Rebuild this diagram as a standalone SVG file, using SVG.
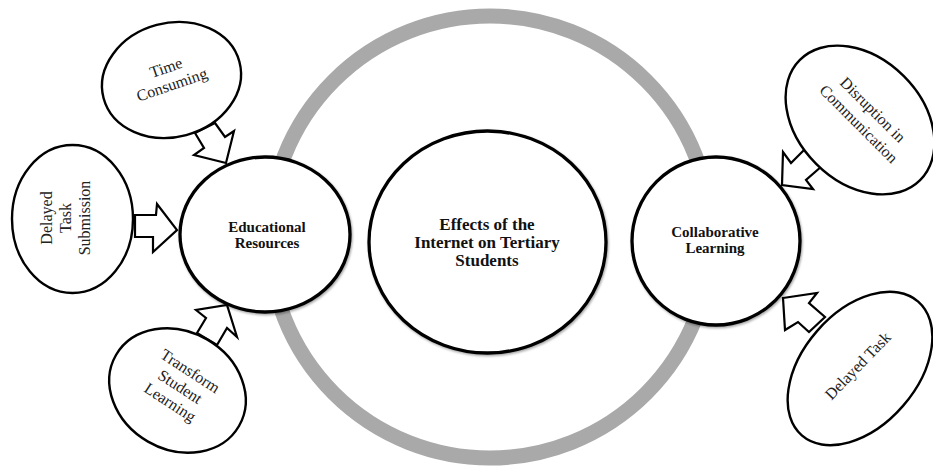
<svg xmlns="http://www.w3.org/2000/svg" width="933" height="468" viewBox="0 0 933 468">
<style>
  .ring { fill: none; stroke: #a9a9a9; stroke-width: 15; }
  .big { fill: #fff; stroke: #000; stroke-width: 3.3; }
  .small { fill: #fff; stroke: #000; stroke-width: 2.4; }
  .arrow { fill: #fff; stroke: #000; stroke-width: 2.2; stroke-linejoin: miter; }
  .tb { font-family: "Liberation Serif", "Times New Roman", serif; font-weight: bold; fill: #111; text-anchor: middle; }
  .t { font-family: "Liberation Serif", "Times New Roman", serif; font-size: 16px; fill: #222; text-anchor: middle; }
</style>
<defs>
  <filter id="sh" x="-10%" y="-10%" width="120%" height="120%">
    <feDropShadow dx="1" dy="1.5" stdDeviation="1.2" flood-color="#000" flood-opacity="0.35"/>
  </filter>
</defs>
<rect width="933" height="468" fill="#fff"/>
<g id="ring"><circle class="ring" cx="490" cy="237" r="221"/></g>
<g id="connectors">
  <polygon class="arrow" points="195,133 204,148 194,155 226,163 234,131 225,137 215,123"/>
  <polygon class="arrow" points="135,215 156,215 157,204 177,230 153,252 153,237 135,237"/>
  <polygon class="arrow" points="197,333 206,318 196,310 227,305 237,337 227,328 217,345"/>
  <polygon class="arrow" points="806,148 791,163 783,152 782,185 813,189 806,180 822,166"/>
  <polygon class="arrow" points="783,298 817,293 809,303 825,317 809,332 798,322 785,330"/>
</g>
<g id="effects">
  <ellipse class="big" filter="url(#sh)" cx="487.5" cy="242" rx="118.5" ry="111"/>
  <text class="tb" font-size="17" x="487" y="230">Effects of the</text>
  <text class="tb" font-size="17" x="487" y="248">Internet on Tertiary</text>
  <text class="tb" font-size="17" x="487" y="266">Students</text>
</g>
<g id="educational">
  <ellipse class="big" filter="url(#sh)" cx="265" cy="234.5" rx="85" ry="77.5"/>
  <text class="tb" font-size="15" x="267" y="232">Educational</text>
  <text class="tb" font-size="15" x="267" y="248">Resources</text>
</g>
<g id="collaborative">
  <ellipse class="big" filter="url(#sh)" cx="716" cy="241" rx="84" ry="84"/>
  <text class="tb" font-size="15" x="715" y="237">Collaborative</text>
  <text class="tb" font-size="15" x="715" y="253">Learning</text>
</g>
<g id="time-consuming">
  <ellipse class="small" cx="171.5" cy="80" rx="70.3" ry="57" transform="rotate(-15 171.5 80)"/>
  <g transform="translate(169 76.5) rotate(-19)">
    <text class="t" x="0" y="-4">Time</text>
    <text class="t" x="0" y="14">Consuming</text>
  </g>
</g>
<g id="delayed-task-submission">
  <ellipse class="small" cx="72.5" cy="219" rx="60.5" ry="74"/>
  <g transform="translate(66 218) rotate(-90)">
    <text class="t" x="0" y="-14">Delayed</text>
    <text class="t" x="0" y="5">Task</text>
    <text class="t" x="0" y="24">Submission</text>
  </g>
</g>
<g id="transform-student-learning">
  <ellipse class="small" cx="177.5" cy="390.5" rx="71" ry="59" transform="rotate(30 177.5 390.5)"/>
  <g transform="translate(180 387) rotate(33)">
    <text class="t" x="0" y="-13.6">Transform</text>
    <text class="t" x="0" y="5">Student</text>
    <text class="t" x="0" y="23.6">Learning</text>
  </g>
</g>
<g id="disruption">
  <ellipse class="small" cx="860" cy="120" rx="85" ry="62" transform="rotate(45 860 120)"/>
  <g transform="translate(865.5 117) rotate(45)">
    <text class="t" x="0" y="-5">Disruption in</text>
    <text class="t" x="0" y="15">Communication</text>
  </g>
</g>
<g id="delayed-task">
  <ellipse class="small" cx="860" cy="368.5" rx="88.7" ry="57" transform="rotate(-49 860 368.5)"/>
  <g transform="translate(858 366) rotate(-46)">
    <text class="t" x="0" y="5">Delayed Task</text>
  </g>
</g>
</svg>
